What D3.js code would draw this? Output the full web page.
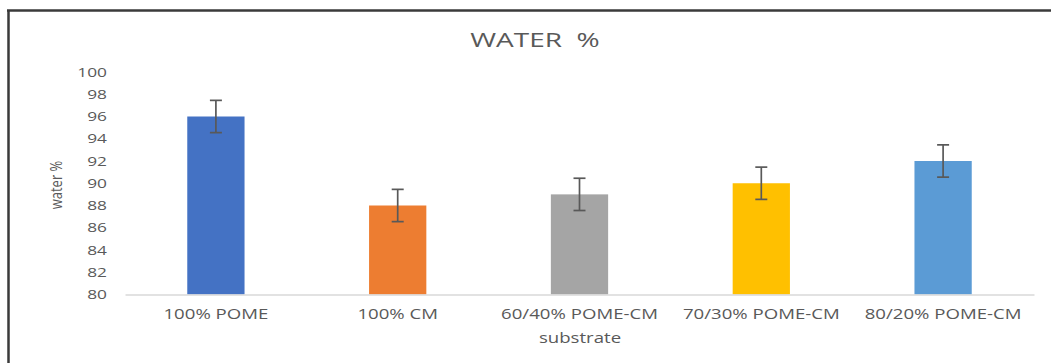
<!DOCTYPE html>
<html><head><meta charset="utf-8">
<script src="https://cdn.jsdelivr.net/npm/d3@7"></script>
<style>body{margin:0;background:#fff}svg{display:block}text{font-family:"Open Sans",sans-serif;fill:#595959}</style>
</head><body><svg id="c" width="1051" height="363"></svg>
<script>
const categories = ["100% POME","100% CM","60/40% POME-CM","70/30% POME-CM","80/20% POME-CM"];
const values = [96, 88, 89, 90, 92];
const errors = [1.45, 1.45, 1.45, 1.45, 1.45];
const colors = ["#4472C4","#ED7D31","#A5A5A5","#FFC000","#5B9BD5"];
const yTicks = [80,82,84,86,88,90,92,94,96,98,100];
const SX = 1.33; // horizontal stretch of the reference text

const svg = d3.select("#c");
// frame
svg.append("line").attr("x1",7).attr("x2",1051).attr("y1",10.5).attr("y2",10.5).attr("stroke","#3a3a3a").attr("stroke-width",2.5);
svg.append("line").attr("x1",8.5).attr("x2",8.5).attr("y1",10).attr("y2",363).attr("stroke","#3a3a3a").attr("stroke-width",2.5);

const x = d3.scaleBand().domain(categories).range([125,1034]).paddingInner(0.685).paddingOuter(0.3425);
const y = d3.scaleLinear().domain([80,100]).range([294.5,72]);

// y axis labels
const ya = svg.append("g").attr("transform","translate(107,0)")
  .call(d3.axisLeft(y).tickValues(yTicks).tickSize(0).tickPadding(0));
ya.select(".domain").remove();
ya.selectAll("text").attr("font-size",13).attr("transform","scale("+SX+",1)")
  .style("fill","#595959").style("font-family","Open Sans");

// bars
svg.append("g").selectAll("rect").data(values).join("rect")
  .attr("x",(d,i)=>x(categories[i])).attr("width",x.bandwidth())
  .attr("y",d=>y(d)).attr("height",d=>y(80)-y(d))
  .attr("fill",(d,i)=>colors[i]);

// x axis
const xa = svg.append("g").attr("transform","translate(0,"+y(80)+")")
  .call(d3.axisBottom(x).tickSize(0).tickPadding(14.5));
xa.select(".domain").attr("stroke","#D9D9D9").attr("stroke-width",1.3);
xa.selectAll("text").attr("font-size",14).attr("transform","scale("+SX+",1)")
  .style("fill","#595959").style("font-family","Open Sans");

// error bars
const eb = svg.append("g").attr("stroke","#595959").attr("stroke-width",1.7);
values.forEach((v,i)=>{
  const cx = x(categories[i]) + x.bandwidth()/2;
  eb.append("line").attr("x1",cx).attr("x2",cx).attr("y1",y(v+errors[i])).attr("y2",y(v-errors[i]));
  eb.append("line").attr("x1",cx-6).attr("x2",cx+6).attr("y1",y(v+errors[i])).attr("y2",y(v+errors[i]));
  eb.append("line").attr("x1",cx-6).attr("x2",cx+6).attr("y1",y(v-errors[i])).attr("y2",y(v-errors[i]));
});

// titles
svg.append("text").attr("transform","translate(535,46.5) scale(1.4,1)").attr("text-anchor","middle")
  .attr("font-size",20).style("white-space","pre").text("WATER  %");
svg.append("text").attr("transform","translate(580,342.5) scale("+SX+",1)").attr("text-anchor","middle")
  .attr("font-size",14).text("substrate");
svg.append("text").attr("transform","translate(62,185) rotate(-90) scale(1,1.3)").attr("text-anchor","middle")
  .attr("font-size",13).text("water %");
</script></body></html>
